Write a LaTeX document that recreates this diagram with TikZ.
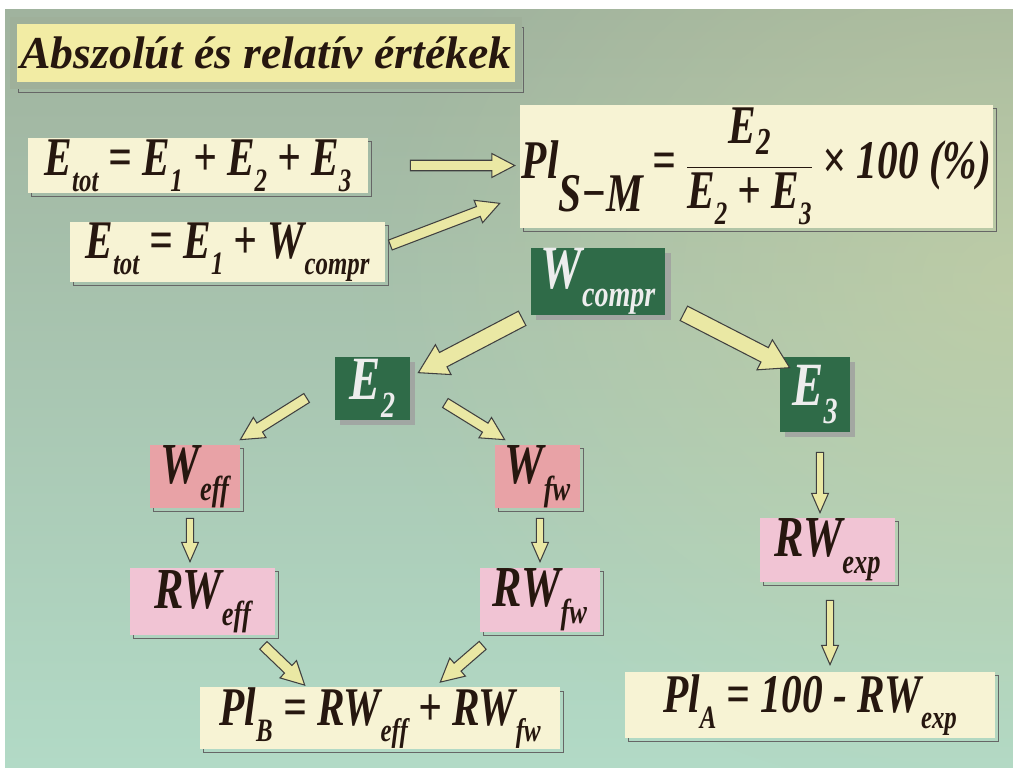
\documentclass[tikz,border=0pt]{standalone}
\usepackage{fontspec}
\setmainfont{Liberation Serif}
\newfontfamily\fml[FakeStretch=0.76]{Liberation Serif}
\usetikzlibrary{calc,shadows,fadings}

\definecolor{bgtop}{HTML}{A0B39E}
\definecolor{bgbot}{HTML}{B2DAC6}
\definecolor{bgtint}{HTML}{D0D6A2}
\definecolor{titlefill}{HTML}{F2ECA4}
\definecolor{titleframe}{HTML}{9FB09A}
\definecolor{cream}{HTML}{F7F3D4}
\definecolor{darkgreen}{HTML}{2F6B48}
\definecolor{rose}{HTML}{E8A2A6}
\definecolor{lightrose}{HTML}{F1C4D4}
\definecolor{arrowfill}{HTML}{EAE8A4}
\definecolor{ink}{HTML}{26170F}

\tikzfading[name=softglow, inner color=transparent!25, outer color=transparent!100]

% lowered subscript
\newcommand{\sbs}[1]{\raisebox{-0.3em}{\scalebox{0.6}{#1}}}

\tikzset{
  fat/.style={to path={
    ($(\tikztostart)!\fsw!90:(\tikztotarget)$)
    -- ($(\tikztotarget)!\fhl!(\tikztostart)!\fsw!-90:(\tikztostart)$)
    -- ($(\tikztotarget)!\fhl!(\tikztostart)!\fhw!-90:(\tikztostart)$)
    -- (\tikztotarget)
    -- ($(\tikztotarget)!\fhl!(\tikztostart)!\fhw!90:(\tikztostart)$)
    -- ($(\tikztotarget)!\fhl!(\tikztostart)!\fsw!90:(\tikztostart)$)
    -- ($(\tikztostart)!\fsw!-90:(\tikztotarget)$)
    -- cycle}},
  arrbig/.code={\def\fsw{4.6pt}\def\fhw{9.6pt}\def\fhl{16pt}},
  arrmid/.code={\def\fsw{3pt}\def\fhw{6.8pt}\def\fhl{13pt}},
  arrsmall/.code={\def\fsw{2.1pt}\def\fhw{4.8pt}\def\fhl{11pt}},
}

\begin{document}
\begin{tikzpicture}[x=0.02cm, y=-0.02cm,
    blockarr/.style={fill=arrowfill, draw=black!75, line width=0.6pt, line join=miter},
    shd/.style={drop shadow={shadow xshift=2.2pt, shadow yshift=-2.2pt, fill=none,
                draw=black!60, line width=0.6pt, opacity=1}},
    box/.style={inner sep=0pt, text=ink, shd},
    cbox/.style={box, fill=cream, font=\fml\bfseries\itshape\fontsize{31}{34}\selectfont},
    gbox/.style={inner sep=0pt, fill=darkgreen, text=white!93!black,
                 font=\fml\bfseries\itshape\fontsize{35}{38}\selectfont,
                 drop shadow={shadow xshift=3pt, shadow yshift=-3pt, fill=gray!75, opacity=0.8}},
    rbox/.style={box, fill=rose, font=\fml\bfseries\itshape\fontsize{33}{36}\selectfont},
    pbox/.style={box, fill=lightrose, font=\fml\bfseries\itshape\fontsize{33}{36}\selectfont},
    titlebox/.style={fill=titlefill, draw=titleframe, line width=4pt, inner sep=0pt,
                 text=ink, font=\bfseries\itshape\fontsize{26}{30}\selectfont,
                 drop shadow={shadow xshift=3pt, shadow yshift=-4pt, fill=none,
                 draw=black!60, line width=0.7pt, opacity=1}},
  ]
  \useasboundingbox (0,0) rectangle (1013,767);
  % background
  \fill[white] (0,0) rectangle (1013,767);
  \shade[top color=bgtop, bottom color=bgbot] (5,10) rectangle (1013,767);
  \begin{scope}
    \clip (5,10) rectangle (1013,767);
    \fill[bgtint, path fading=softglow, opacity=0.7]
      (1013,280) ellipse [x radius=650, y radius=520];
  \end{scope}

  \node[titlebox, minimum width=10.1cm, minimum height=1.3cm] (title) at (266,53)
    {Abszolút és relatív értékek};

  % formulas
  \node[cbox, minimum width=6.8cm, minimum height=1.1cm] (etA) at (198,165.5)
    {E\sbs{tot} = E\sbs{1} + E\sbs{2} + E\sbs{3}};
  \node[cbox, minimum width=6.3cm, minimum height=1.2cm] (etB) at (227.5,252)
    {E\sbs{tot} = E\sbs{1} + W\sbs{compr}};
  \node[cbox, minimum width=9.46cm, minimum height=2.46cm] (plsm) at (756.5,166.5)
    {Pl\raisebox{-0.6em}{S−M}\,=\,$\displaystyle\frac{\mbox{E\raisebox{-0.2em}{\scalebox{0.7}{2}}}\rule[-0.4em]{0pt}{0.1em}}{\mbox{E\sbs{2} + E\sbs{3}}}$\,× 100 (\%)};

  % energy tree
  \node[gbox, minimum width=2.7cm, minimum height=1.34cm] (wc) at (598,281.5) {W\sbs{compr}};
  \node[gbox, minimum width=1.5cm, minimum height=1.26cm] (e2) at (372.5,388.5) {E\sbs{2}};
  \node[gbox, minimum width=1.4cm, minimum height=1.5cm] (e3) at (815,394.5) {E\sbs{3}};

  \node[rbox, minimum width=1.8cm, minimum height=1.26cm] (weff) at (195,476.5) {W\sbs{eff}};
  \node[rbox, minimum width=1.7cm, minimum height=1.26cm] (wfw) at (537.5,476.5) {W\sbs{fw}};
  \node[pbox, minimum width=2.9cm, minimum height=1.34cm] (rweff) at (202.5,601.5) {RW\sbs{eff}};
  \node[pbox, minimum width=2.4cm, minimum height=1.28cm] (rwfw) at (540,600) {RW\sbs{fw}};
  \node[pbox, minimum width=2.7cm, minimum height=1.28cm] (rwexp) at (827.5,550) {RW\sbs{exp}};

  \node[cbox, minimum width=7.2cm, minimum height=1.2cm] (plb) at (380,718)
    {Pl\sbs{B} = RW\sbs{eff} + RW\sbs{fw}};
  \node[cbox, minimum width=7.4cm, minimum height=1.32cm] (pla) at (810,705)
    {Pl\sbs{A} = 100 - RW\sbs{exp}};

  % block arrows
  \draw[blockarr, arrmid] ($(etA.east)+(42,0)$) to[fat] ($(plsm.west)+(-5,-1)$);
  \draw[blockarr, arrmid] ($(etB.east)+(5,-7)$) to[fat] ($(plsm.south west)+(-20,-25)$);
  \draw[blockarr, arrbig] ($(wc.south west)+(-8,3)$) to[fat] ($(e2.north east)+(8,16)$);
  \draw[blockarr, arrbig] ($(wc.south east)+(18,-2)$) to[fat] ($(e3.north west)+(10,11)$);
  \draw[blockarr, arrmid] ($(e2.west)+(-28,9.5)$) to[fat] ($(weff.north east)+(0,-5)$);
  \draw[blockarr, arrmid] ($(e2.east)+(35,14.5)$) to[fat] ($(wfw.north west)+(10,-5)$);
  \draw[blockarr, arrsmall] ($(weff.south)+(-5,10)$) to[fat] ($(rweff.north)+(-12.5,-6)$);
  \draw[blockarr, arrsmall] ($(wfw.south)+(2.5,10)$) to[fat] ($(rwfw.north)+(0,-6)$);
  \draw[blockarr, arrsmall] ($(e3.south)+(5,20)$) to[fat] ($(rwexp.north)+(-7.5,-5)$);
  \draw[blockarr, arrsmall] ($(rwexp.south)+(2.5,18)$) to[fat] ($(pla.north)+(20,-7)$);
  \draw[blockarr, arrmid] ($(rweff.south east)+(-12,10)$) to[fat] ($(plb.north west)+(105,-2)$);
  \draw[blockarr, arrmid] ($(rwfw.south west)+(3,13)$) to[fat] ($(plb.north east)+(-120,-5)$);
\end{tikzpicture}
\end{document}
